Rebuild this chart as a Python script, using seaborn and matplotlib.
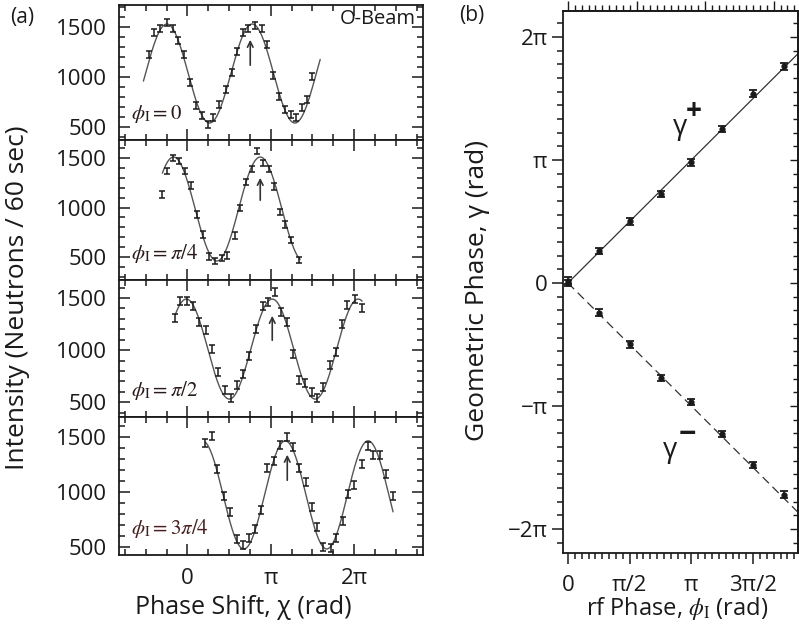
import numpy as np
import pandas as pd
import matplotlib
matplotlib.use("Agg")
import matplotlib.pyplot as plt
import seaborn as sns
from matplotlib.ticker import MultipleLocator, FixedLocator, FixedFormatter, NullFormatter

sns.set_theme(style="ticks")
plt.rcParams['font.family'] = ['Open Sans', 'DejaVu Sans']
plt.rcParams['mathtext.fontset'] = 'stix'

PI = np.pi

# ---------------- Panel (a) data (chi in units of pi, intensity in counts / 60 s) -------------
chi_p1 = [-0.455, -0.395, -0.323, -0.240, -0.168, -0.108, -0.036, 0.036, 0.108, 0.180,
          0.251, 0.311, 0.383, 0.467, 0.539, 0.599, 0.671, 0.731, 0.814, 0.898,
          0.958, 1.030, 1.102, 1.174, 1.246, 1.305, 1.377, 1.437, 1.497]
int_p1 = [1223, 1441, 1490, 1550, 1490, 1361, 1223, 946, 718, 619,
          530, 599, 728, 876, 1045, 1252, 1441, 1490, 1520, 1490,
          1322, 1015, 807, 678, 629, 599, 698, 777, 1005]

chi_p2 = [-0.299, -0.240, -0.168, -0.096, -0.024, 0.048, 0.120, 0.192, 0.263, 0.335,
          0.419, 0.479, 0.575, 0.635, 0.707, 0.778, 0.838, 0.910, 0.982, 1.042,
          1.114, 1.174, 1.246, 1.341]
int_p2 = [1136, 1369, 1500, 1470, 1369, 1227, 934, 732, 510, 460,
          490, 520, 722, 995, 1258, 1389, 1571, 1450, 1389, 1217,
          955, 833, 672, 470]

chi_p3 = [-0.144, -0.084, 0.000, 0.072, 0.144, 0.228, 0.299, 0.371, 0.455, 0.527,
          0.599, 0.671, 0.743, 0.826, 0.910, 0.970, 1.054, 1.126, 1.198, 1.269,
          1.341, 1.413, 1.497, 1.557, 1.629, 1.713, 1.784, 1.856, 1.916, 2.012, 2.096]
int_p3 = [1308, 1471, 1471, 1423, 1270, 1193, 1010, 790, 617, 540,
          665, 770, 943, 1202, 1423, 1462, 1558, 1366, 1270, 962,
          713, 684, 598, 540, 646, 857, 982, 1250, 1433, 1490, 1404]

chi_p4 = [0.216, 0.299, 0.359, 0.443, 0.515, 0.599, 0.671, 0.743, 0.814, 0.886,
          0.958, 1.042, 1.114, 1.198, 1.269, 1.341, 1.425, 1.497, 1.557, 1.629,
          1.725, 1.784, 1.868, 1.928, 2.000, 2.096, 2.168, 2.228, 2.311, 2.383, 2.467]
int_p4 = [1445, 1509, 1209, 963, 818, 572, 517, 581, 663, 836,
          1218, 1282, 1427, 1500, 1409, 1218, 1090, 863, 681, 499,
          490, 581, 736, 981, 1063, 1254, 1418, 1336, 1336, 1163, 963]

count_err = [35, 35, 35, 35]

# fitted cosine curves (units of pi for phases)
fit_chi_start = [-0.527, -0.300, -0.144, 0.216]
fit_chi_end = [1.593, 1.353, 2.096, 2.467]
fit_mean = [1035, 985, 1010, 973]
fit_amp = [495, 525, 480, 492]
fit_period = [1.024, 1.040, 1.030, 0.994]
fit_peak = [0.778, 0.874, 1.018, 1.174]

# arrows marking the shifted peak
arrow_chi = [0.754, 0.874, 1.018, 1.198]
arrow_tail = [1090, 1046, 1068, 1081]
arrow_head = [1400, 1328, 1356, 1364]

panel_labels = [r'$\phi_{\mathrm{I}}=0$', r'$\phi_{\mathrm{I}}=\pi/4$',
                r'$\phi_{\mathrm{I}}=\pi/2$', r'$\phi_{\mathrm{I}}=3\pi/4$']
panel_ylims = [(370, 1720), (268, 1682), (358, 1673), (426, 1682)]

chi_ticks = [0, 1, 2]
chi_ticklabels = ['0', 'π', '2π']
int_ticks = [500, 1000, 1500]
int_ticklabels = ['500', '1000', '1500']

# ---------------- Panel (b) data (units of pi) ----------------
rf_phase = [0, 0.25, 0.5, 0.75, 1.0, 1.25, 1.5, 1.75]
gamma_plus = [0.02, 0.26, 0.50, 0.72, 0.98, 1.25, 1.54, 1.76]
gamma_minus = [0.00, -0.24, -0.50, -0.77, -0.97, -1.23, -1.48, -1.72]
gamma_err = 0.025
slope_plus = 1.0
slope_minus = -1.0
g_ticks = [-2, -1, 0, 1, 2]
g_ticklabels = ['−2π', '−π', '0', 'π', '2π']
rf_ticks = [0, 0.5, 1.0, 1.5]
rf_ticklabels = ['0', 'π/2', 'π', '3π/2']

# ---------------- figure ----------------
W, H = 799, 635
fig = plt.figure(figsize=(W / 100, H / 100), dpi=100)

def fx(px):
    return px / W

def fy(py):
    return 1 - py / H

ink = '#1a1a1a'
curve_col = '#555555'

panel_edges = [5, 140, 280, 417, 555]
left_px, right_px = 119, 423

chis = [chi_p1, chi_p2, chi_p3, chi_p4]
ints = [int_p1, int_p2, int_p3, int_p4]

axes_a = []
for k in range(4):
    top, bot = panel_edges[k], panel_edges[k + 1]
    ax = fig.add_axes([fx(left_px), fy(bot), fx(right_px - left_px), (bot - top) / H])
    axes_a.append(ax)
    # fit curve
    xx = np.linspace(fit_chi_start[k], fit_chi_end[k], 300)
    yy = fit_mean[k] + fit_amp[k] * np.cos(2 * PI * (xx - fit_peak[k]) / fit_period[k])
    dfit = pd.DataFrame({'chi': xx * PI, 'I': yy})
    sns.lineplot(data=dfit, x='chi', y='I', ax=ax, color=curve_col, lw=1.0)
    # data points with error bars
    d = pd.DataFrame({'chi': np.array(chis[k]) * PI, 'I': ints[k]})
    ax.errorbar(d['chi'], d['I'], yerr=count_err[k], fmt='none', ecolor=ink,
                elinewidth=1.1, capsize=2.2, capthick=1.1, zorder=3)
    # arrow
    ax.annotate('', xy=(arrow_chi[k] * PI, arrow_head[k]), xytext=(arrow_chi[k] * PI, arrow_tail[k]),
                arrowprops=dict(arrowstyle='->', color='#333333', lw=1.2, mutation_scale=10))
    ax.text(0.04, 0.19, panel_labels[k], transform=ax.transAxes, fontsize=15,
            color='#2a1a1a' if k < 3 else '#4a1c1c', ha='left', va='center')
    ax.set_xlim(-0.82 * PI, 2.826 * PI)
    ax.set_ylim(*panel_ylims[k])
    ax.xaxis.set_major_locator(FixedLocator([t * PI for t in chi_ticks]))
    ax.xaxis.set_minor_locator(MultipleLocator(PI / 4))
    ax.yaxis.set_major_locator(FixedLocator(int_ticks))
    ax.yaxis.set_major_formatter(FixedFormatter(int_ticklabels))
    ax.yaxis.set_minor_locator(MultipleLocator(100))
    ax.tick_params(which='both', direction='in', top=True, bottom=True, left=True, right=True,
                   color=ink, width=1.1)
    ax.tick_params(which='major', length=8)
    ax.tick_params(which='minor', length=4.5)
    ax.tick_params(axis='y', labelsize=16, pad=9, labelcolor=ink)
    if k == 3:
        ax.xaxis.set_major_formatter(FixedFormatter(chi_ticklabels))
        ax.tick_params(axis='x', labelsize=16, pad=9, labelcolor=ink)
    else:
        ax.xaxis.set_major_formatter(NullFormatter())
    ax.set_xlabel('')
    ax.set_ylabel('')
    for s in ax.spines.values():
        s.set_linewidth(1.3)
        s.set_color(ink)

axes_a[0].text(0.975, 0.9, 'O-Beam', transform=axes_a[0].transAxes, ha='right', va='center',
               fontsize=14.5, color=ink)

fig.text(fx(18), fy(298), 'Intensity (Neutrons / 60 sec)', rotation=90, ha='center', va='center',
         fontsize=19, color=ink)
fig.text(fx(243), fy(608), 'Phase Shift, χ (rad)', ha='center', va='center', fontsize=18, color=ink)
fig.text(fx(22), fy(17), '(a)', ha='center', va='center', fontsize=15, color=ink)

# ---------------- panel (b) ----------------
axb = fig.add_axes([fx(563), fy(553), fx(798 - 563), (553 - 11) / H])
xmax_b = 1.864
xl = np.array([0, xmax_b]) * PI
dline = pd.DataFrame({'phi': np.concatenate([xl, xl]),
                      'gamma': np.concatenate([slope_plus * xl, slope_minus * xl]),
                      'branch': ['plus', 'plus', 'minus', 'minus']})
sns.lineplot(data=dline[dline.branch == 'plus'], x='phi', y='gamma', ax=axb, color='#333333', lw=0.9)
sns.lineplot(data=dline[dline.branch == 'minus'], x='phi', y='gamma', ax=axb, color='#333333', lw=0.9,
             dashes=False, linestyle=(0, (7, 4)))
dpts = pd.DataFrame({'phi': np.array(rf_phase) * PI,
                     'gp': np.array(gamma_plus) * PI, 'gm': np.array(gamma_minus) * PI})
for col in ['gp', 'gm']:
    axb.errorbar(dpts['phi'], dpts[col], yerr=gamma_err * PI, fmt='o', ms=3.5, color=ink,
                 ecolor=ink, elinewidth=1.2, capsize=3, capthick=1.3, zorder=3)
axb.set_xlim(-0.04 * PI, xmax_b * PI)
axb.set_ylim(-2.195 * PI, 2.211 * PI)
axb.xaxis.set_major_locator(FixedLocator([t * PI for t in rf_ticks]))
axb.xaxis.set_major_formatter(FixedFormatter(rf_ticklabels))
axb.xaxis.set_minor_locator(MultipleLocator(PI / 18))
axb.yaxis.set_major_locator(FixedLocator([t * PI for t in g_ticks]))
axb.yaxis.set_major_formatter(FixedFormatter(g_ticklabels))
axb.yaxis.set_minor_locator(MultipleLocator(PI / 9))
axb.tick_params(which='both', direction='out', color=ink, width=1.1, labelcolor=ink)
axb.tick_params(which='major', length=8)
axb.tick_params(which='minor', length=4.5)
axb.tick_params(axis='y', labelsize=16, pad=3)
axb.tick_params(axis='x', labelsize=16, pad=8)
axb.set_xlabel('')
axb.set_ylabel('')
for s in axb.spines.values():
    s.set_linewidth(1.3)
    s.set_color(ink)

secx = axb.secondary_xaxis('top', functions=(np.degrees, np.radians))
secx.xaxis.set_major_locator(MultipleLocator(100))
secx.xaxis.set_minor_locator(MultipleLocator(10))
secx.xaxis.set_major_formatter(NullFormatter())
secx.tick_params(which='both', direction='out', color=ink, width=1.0)
secx.tick_params(which='major', length=7)
secx.tick_params(which='minor', length=4)

secy = axb.secondary_yaxis('right', functions=(lambda v: v, lambda v: v))
secy.yaxis.set_major_locator(FixedLocator([t * PI for t in g_ticks]))
secy.yaxis.set_minor_locator(MultipleLocator(PI / 9))
secy.yaxis.set_major_formatter(NullFormatter())
secy.tick_params(which='both', direction='in', color=ink, width=1.0)
secy.tick_params(which='major', length=6)
secy.tick_params(which='minor', length=3.5)

axb.text(0.498, 0.786, 'γ', transform=axb.transAxes, ha='center', va='center', fontsize=20, color=ink)
axb.text(0.556, 0.815, '+', transform=axb.transAxes, ha='center', va='center', fontsize=20,
         fontweight='bold', color=ink)
axb.text(0.455, 0.19, 'γ', transform=axb.transAxes, ha='center', va='center', fontsize=20, color=ink)
axb.text(0.53, 0.218, '−', transform=axb.transAxes, ha='center', va='center', fontsize=22,
         fontweight='bold', color=ink)

fig.text(fx(478), fy(290), 'Geometric Phase, γ (rad)', rotation=90, ha='center', va='center',
         fontsize=19, color=ink)
fig.text(fx(677), fy(609), r'rf Phase, $\phi_{\mathrm{I}}$ (rad)', ha='center', va='center',
         fontsize=17, color=ink)
fig.text(fx(472), fy(15), '(b)', ha='center', va='center', fontsize=15, color=ink)

fig.savefig('out.png', dpi=100)
